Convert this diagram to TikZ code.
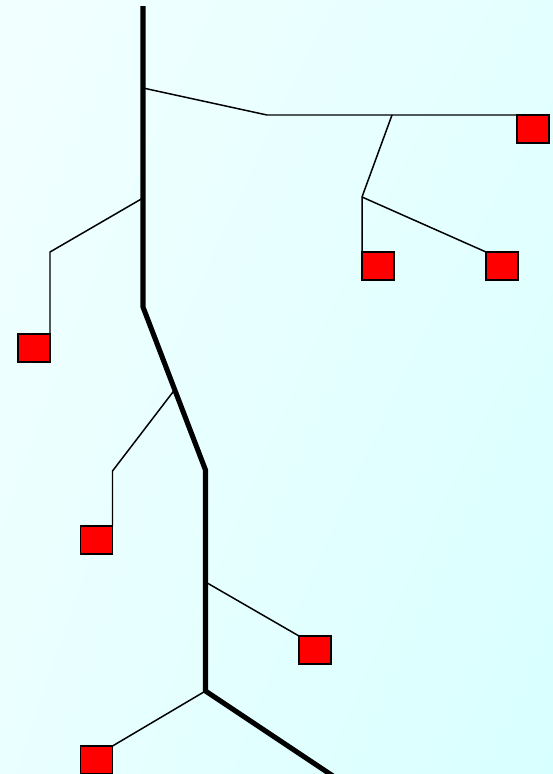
\documentclass[tikz,border=0pt]{standalone}
\usepackage[usenames,dvipsnames]{xcolor}
\usepackage{tikz}
\usetikzlibrary{shadings}

\definecolor{bgA}{HTML}{F2FFFF}
\definecolor{bgB}{HTML}{E4FFFF}
\definecolor{bgC}{HTML}{EAFFFF}
\definecolor{bgD}{HTML}{D8FFFF}

\begin{document}
\begin{tikzpicture}[x=0.02cm, y=-0.02cm,
				trunk/.style={line width=2.9pt, black},
				feeder/.style={line width=0.85pt, black},
				load/.style={draw=black, line width=0.6pt, fill=red, minimum width=0.64cm,
					minimum height=0.56cm, inner sep=0pt, outer sep=0pt}]
				\useasboundingbox (0,0) rectangle (553,774);
				\shade[upper left=bgA, upper right=bgB, lower left=bgC, lower right=bgD] (0,0) rectangle (553,774);
				\clip (0,0) rectangle (553,774);
				% main line
				\coordinate (T0) at (143,6);
				\coordinate (T1) at (143,88);
				\coordinate (T2) at (143,198);
				\coordinate (T3) at (143,307);
				\coordinate (T4) at (174.5,390);
				\coordinate (T5) at (205.5,470);
				\coordinate (T6) at (205.5,582);
				\coordinate (T7) at (205.5,691);
				\coordinate (T8) at (333,776);
				% bends of the side lines
				\coordinate (C1) at (267,115);
				\coordinate (C2) at (392,115);
				\coordinate (C3) at (362,197);
				\coordinate (C4) at (50,252);
				\coordinate (C5) at (112.5,471);
				% loads
				\node[load, anchor=north west] (R1) at (517,115) {};
				\node[load, anchor=north west] (R2) at (362,252) {};
				\node[load, anchor=north west] (R3) at (486,252) {};
				\node[load, anchor=north east] (L1) at (50,334) {};
				\node[load, anchor=north east] (L2) at (112.5,526) {};
				\node[load, anchor=north west] (R4) at (299,636) {};
				\node[load, anchor=north east] (L3) at (112.5,746) {};
				\draw[feeder] (T1) -- (C1) -- (C2) -- (R1.north west);
				\draw[feeder] (C2) -- (C3) -- (R2.north west);
				\draw[feeder] (C3) -- (R3.north west);
				\draw[feeder] (T2) -- (C4) -- (L1.north east);
				\draw[feeder] (T4) -- (C5) -- (L2.north east);
				\draw[feeder] (T6) -- (R4.north west);
				\draw[feeder] (T7) -- (L3.north east);
				\draw[trunk] (T0) -- (T3) -- (T5) -- (T7) -- (T8);
				\end{tikzpicture}
\end{document}
